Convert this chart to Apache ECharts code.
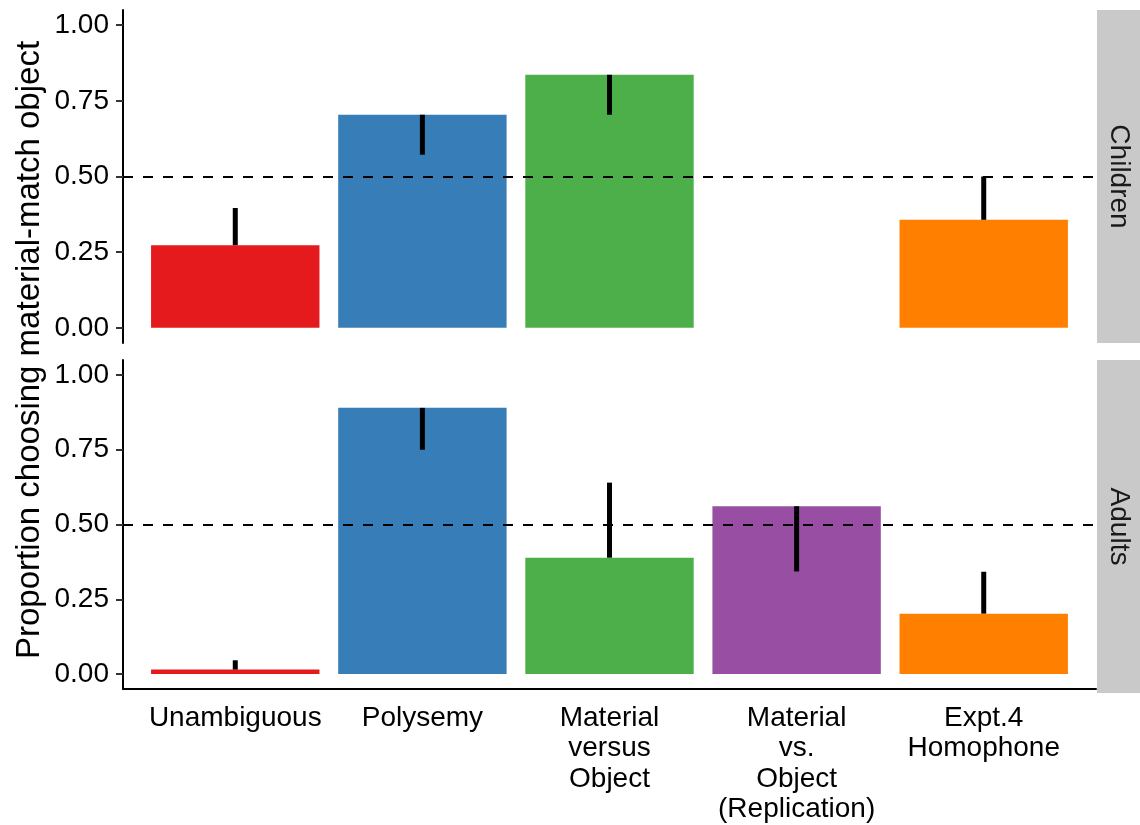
<!DOCTYPE html>
<html>
<head>
<meta charset="utf-8">
<script src="https://cdn.jsdelivr.net/npm/echarts@6/dist/echarts.min.js"></script>
<style>
  html, body { margin: 0; padding: 0; background: #fff; }
  #chart { width: 1140px; height: 825px; }
</style>
</head>
<body>
<div id="chart"></div>
<script>
// Categories along the x axis (line breaks as drawn under the bottom panel)
const categories = ['Unambiguous', 'Polysemy', 'Material\nversus\nObject', 'Material\nvs.\nObject\n(Replication)', 'Expt.4\nHomophone'];
const barColors = ['#E41A1C', '#377EB8', '#4DAF4A', '#984EA3', '#FF7F00'];
const panels = ['Children', 'Adults'];

// Mean proportion choosing the material-match object, and where each error bar ends
const childrenMean   = [0.273, 0.704, 0.836, null, 0.357];
const childrenErrEnd = [0.396, 0.572, 0.704, null, 0.500];
const adultsMean     = [0.015, 0.890, 0.389, 0.561, 0.202];
const adultsErrEnd   = [0.046, 0.750, 0.640, 0.343, 0.342];

const yTicks = [0, 0.25, 0.5, 0.75, 1];
const chance = 0.5;

const FONT = 'Liberation Sans, Arial, Helvetica, sans-serif';
const positions = categories.map((_, i) => i + 1);

function barData(means) {
  return means.map((v, i) => v == null ? null : [positions[i], v]).filter(d => d);
}
function errData(means, ends) {
  return means.map((v, i) => v == null ? null : [positions[i], v, ends[i]]).filter(d => d);
}

function renderBar(params, api) {
  const x = api.value(0), v = api.value(1);
  const p0 = api.coord([x - 0.45, v]);
  const p1 = api.coord([x + 0.45, 0]);
  return {
    type: 'rect',
    shape: { x: p0[0], y: p0[1], width: p1[0] - p0[0], height: p1[1] - p0[1] },
    style: { fill: barColors[x - 1] }
  };
}
function renderErr(params, api) {
  const x = api.value(0);
  const a = api.coord([x, api.value(1)]);
  const b = api.coord([x, api.value(2)]);
  return {
    type: 'line',
    shape: { x1: a[0], y1: a[1], x2: b[0], y2: b[1] },
    style: { stroke: '#000', lineWidth: 5, lineCap: 'butt' }
  };
}

const gridLeft = 123, gridWidth = 973, panelH = 333;
const panelTops = [10, 360];

const grids = panelTops.map(t => ({ left: gridLeft, top: t, width: gridWidth, height: panelH, containLabel: false }));

const xAxes = panelTops.map((t, gi) => ({
  type: 'value', gridIndex: gi, min: 0.4, max: 5.6,
  splitLine: { show: false },
  axisLine: { show: gi === 1, onZero: false, lineStyle: { color: '#000', width: 2 } },
  axisTick: { show: false },
  axisLabel: {
    show: gi === 1,
    customValues: positions,
    formatter: v => categories[Math.round(v) - 1],
    color: '#000', fontSize: 28, fontFamily: FONT, lineHeight: 30.5, margin: 14
  }
}));

const yAxes = panelTops.map((t, gi) => ({
  type: 'value', gridIndex: gi, min: -0.05, max: 1.05,
  splitLine: { show: false },
  axisLine: { show: true, onZero: false, lineStyle: { color: '#000', width: 2 } },
  axisTick: { show: true, length: 7, customValues: yTicks, lineStyle: { color: '#333', width: 2 } },
  axisLabel: {
    customValues: yTicks,
    formatter: v => v.toFixed(2),
    color: '#000', fontSize: 28, fontFamily: FONT, margin: 14
  }
}));

const series = [];
[[childrenMean, childrenErrEnd], [adultsMean, adultsErrEnd]].forEach(([m, e], gi) => {
  series.push({
    type: 'custom', xAxisIndex: gi, yAxisIndex: gi, z: 2,
    renderItem: renderBar, data: barData(m)
  });
  series.push({
    type: 'custom', xAxisIndex: gi, yAxisIndex: gi, z: 3,
    renderItem: renderErr, data: errData(m, e),
    markLine: {
      silent: true, symbol: 'none', z: 4,
      label: { show: false },
      lineStyle: { color: '#000', width: 2, type: [10, 10] },
      data: [{ yAxis: chance }]
    }
  });
});

// Facet strips on the right and the shared y-axis title
const graphics = [];
panelTops.forEach((t, gi) => {
  graphics.push({
    type: 'rect', left: 1097, top: t,
    shape: { width: 43, height: panelH },
    style: { fill: '#C9C9C9' }, z: 1
  });
  graphics.push({
    type: 'text', x: 1119, y: t + panelH / 2, rotation: -Math.PI / 2,
    style: { text: panels[gi], fontSize: 28, fontFamily: FONT, fill: '#1A1A1A', align: 'center', verticalAlign: 'middle' },
    z: 2
  });
});
graphics.push({
  type: 'text', x: 30, y: 350, rotation: Math.PI / 2,
  style: { text: 'Proportion choosing material-match object', fontSize: 33, fontFamily: FONT, fill: '#000', align: 'center', verticalAlign: 'middle' }
});

const chart = echarts.init(document.getElementById('chart'), null, { renderer: 'canvas' });
chart.setOption({
  animation: false,
  backgroundColor: '#fff',
  grid: grids,
  xAxis: xAxes,
  yAxis: yAxes,
  series: series,
  graphic: graphics
});
</script>
</body>
</html>
